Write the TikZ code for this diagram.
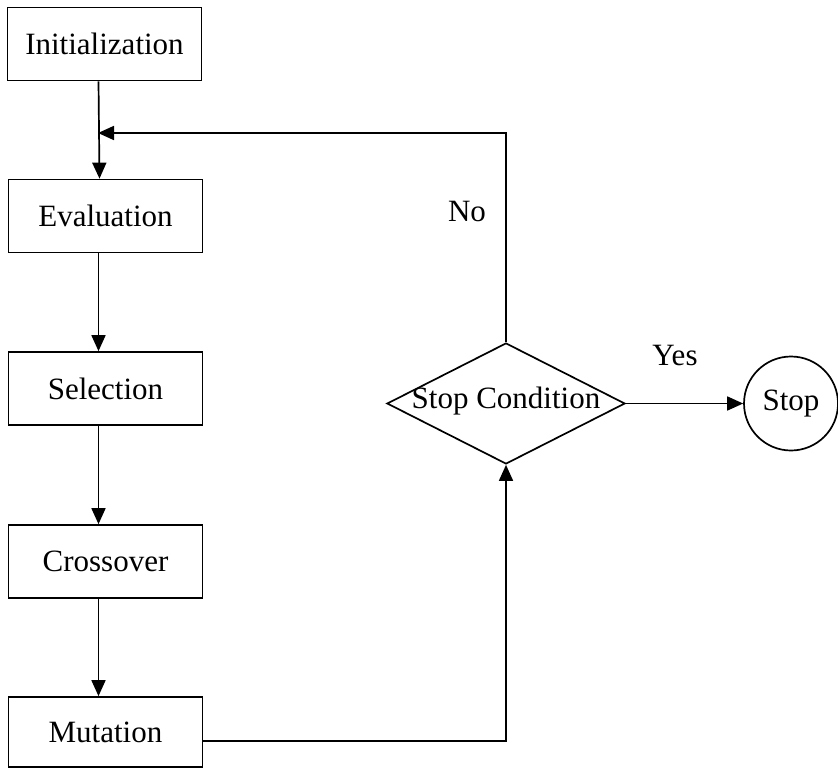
\documentclass[tikz,border=0pt]{standalone}
\usepackage{fontspec}
\setmainfont{Liberation Serif}
\usetikzlibrary{shapes.geometric,arrows.meta}
\begin{document}
\begin{tikzpicture}[x=0.5pt,y=-0.5pt,
  font=\fontsize{15.5}{18}\selectfont,
  every path/.style={line width=0.85pt},
  procbox/.style={draw, rectangle, minimum width=97pt, minimum height=36.5pt, inner sep=0pt},
  flow/.style={-{Triangle[length=8pt,width=7pt]}},
  plain/.style={draw=none, inner sep=0pt}]
\useasboundingbox (0,0) rectangle (838,770);
\node[procbox] (init) at (104.5,44) {Initialization};
\node[procbox] (eval) at (105.5,216) {Evaluation};
\node[procbox] (sel) at (105.5,388.5) {Selection};
\node[procbox] (cross) at (105.5,561.5) {Crossover};
\node[procbox, minimum height=35pt] (mut) at (105.5,732) {Mutation};
\node[draw, diamond, minimum width=119pt, minimum height=60.5pt, inner sep=0pt] (cond) at (506,403.5) {};
\node[plain] (condlbl) at (506,401) {Stop Condition};
\node[draw, circle, minimum size=47pt, inner sep=0pt] (stop) at (791,403.5) {Stop};
\node[plain] (yes) at (675,355) {Yes};
\node[plain] (no) at (467,212) {No};
\coordinate (join) at (98,133);
\draw[flow] ([xshift=-3pt]init.south) -- ([xshift=-3pt]eval.north);
\draw[flow] ([xshift=-3.5pt]eval.south) -- ([xshift=-3.5pt]sel.north);
\draw[flow] ([xshift=-3.5pt]sel.south) -- ([xshift=-3.5pt]cross.north);
\draw[flow] ([xshift=-3.5pt]cross.south) -- ([xshift=-3.5pt]mut.north);
\draw[flow] ([yshift=-4.5pt]mut.east) -| (cond.south);
\draw[flow] (cond.north) |- (join);
\draw[flow] (cond.east) -- (stop.west);
\end{tikzpicture}
\end{document}
